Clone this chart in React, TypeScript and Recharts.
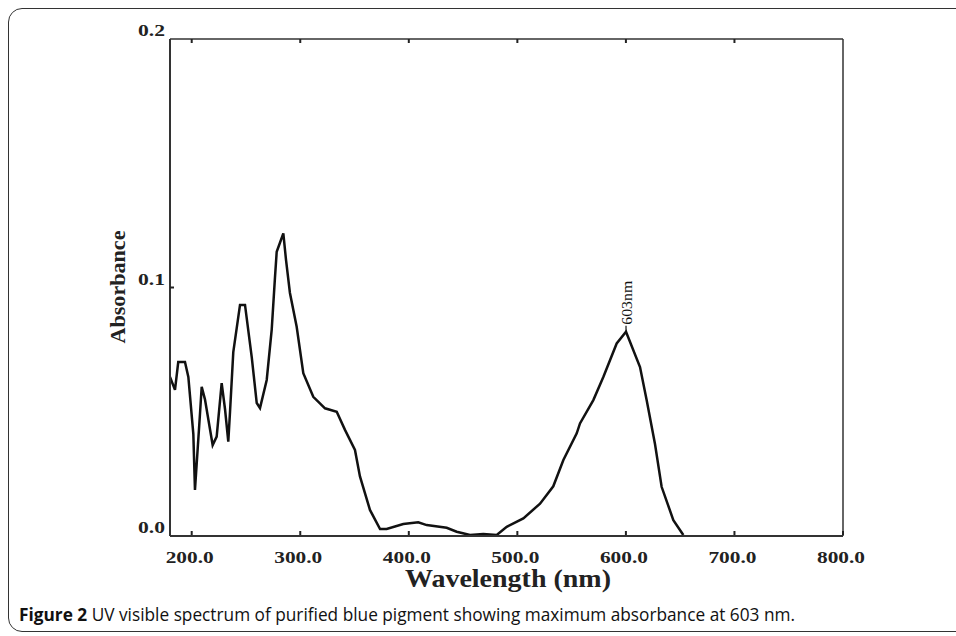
import { LineChart, Line, XAxis, YAxis, ReferenceDot } from "recharts";

// Wavelength (nm) and absorbance
const wavelength = [
  180, 184.6, 187.6, 193.8, 196.9, 201.5, 203.0, 207.6, 209.2, 212.2, 219.3,
  223.0, 227.6, 230.7, 233.7, 235.3, 238.3, 244.5, 249.1, 255.3, 259.9, 262.9,
  269.1, 273.7, 276.7, 278.3, 281.3, 284.4, 286.9, 290.5, 296.7, 302.8, 312.0,
  322.8, 333.6, 341.2, 350.4, 355.0, 364.2, 373.5, 379.6, 394.9, 408.7, 416.5,
  434.9, 444.1, 456.4, 468.6, 481.0, 490.2, 505.5, 520.9, 533.1, 542.4, 554.7,
  557.7, 570.0, 579.2, 591.5, 600.1, 613.0, 619.1, 626.8, 632.9, 643.7, 652.9,
];
const absorbance = [
  0.064, 0.0588, 0.07, 0.07, 0.064, 0.041, 0.0185, 0.049, 0.06, 0.055, 0.0366,
  0.04, 0.0615, 0.051, 0.038, 0.05, 0.074, 0.093, 0.093, 0.072, 0.0535, 0.0515,
  0.0628, 0.083, 0.104, 0.1144, 0.118, 0.1218, 0.111, 0.0978, 0.0842, 0.0655, 0.056,
  0.0514, 0.05, 0.0427, 0.0346, 0.024, 0.0105, 0.0028, 0.0028, 0.0048, 0.0055, 0.0044,
  0.0033, 0.0017, 0.0004, 0.0008, 0.0004, 0.0037, 0.0071, 0.013, 0.02, 0.0306, 0.0413,
  0.0453, 0.0547, 0.064, 0.0775, 0.0822, 0.068, 0.0547, 0.037, 0.0198, 0.0064, 0.0004,
];
const xTicks = [200, 300, 400, 500, 600, 700, 800];
const yTicks = [0, 0.1, 0.2];
const peakLabel = "603nm";

const data = wavelength.map((nm, i) => ({ nm, abs: absorbance[i] }));

// visible-band maximum (the labelled peak)
let peakIdx = 0;
wavelength.forEach((nm, i) => {
  if (nm > 500 && (wavelength[peakIdx] <= 500 || absorbance[i] > absorbance[peakIdx])) peakIdx = i;
});

const serif = "'Liberation Serif', 'Times New Roman', serif";
const TICK = 4; // inward tick length
const X_GAP = 16;
const Y_GAP = 5;

// bottom tick: label + small inward mark (axis sits X_GAP above the label anchor)
const XTick = (props: any) => {
  const { x, y, payload } = props;
  const axisY = y - X_GAP;
  return (
    <g>
      <line x1={x} x2={x} y1={axisY - 1} y2={axisY - 1 - TICK} stroke="#222" strokeWidth={2} />
      <text x={x - 2} y={y} dy={11} textAnchor="middle" fontFamily={serif} fontWeight="bold"
        fontSize={16} fill="#222" textLength={48} lengthAdjust="spacingAndGlyphs">
        {Number(payload.value).toFixed(1)}
      </text>
    </g>
  );
};

const YTick = (props: any) => {
  const { x, y, payload } = props;
  const axisX = x + Y_GAP;
  return (
    <g>
      {payload.value > 0 && payload.value < 0.2 && (
        <line x1={axisX} x2={axisX + TICK} y1={y} y2={y} stroke="#222" strokeWidth={2} />
      )}
      <text x={x} y={y} dy={-3} textAnchor="end" fontFamily={serif} fontWeight="bold"
        fontSize={16} fill="#222" textLength={27} lengthAdjust="spacingAndGlyphs">
        {Number(payload.value).toFixed(1)}
      </text>
    </g>
  );
};

const TopTick = (props: any) => {
  const { x, y, payload } = props;
  if (payload.value >= 800) return <g />;
  return <line x1={x} x2={x} y1={y} y2={y + TICK} stroke="#222" strokeWidth={2} />;
};

const PeakMark = (props: any) => {
  const { cx, cy } = props;
  return (
    <g>
      <line x1={cx} y1={cy} x2={cx} y2={cy - 6} stroke="#111" strokeWidth={1.2} />
      <text transform={`translate(${cx + 6},${cy - 7}) rotate(-90)`} fontFamily={serif}
        fontSize={15} fill="#111" textLength={44} lengthAdjust="spacingAndGlyphs">
        {peakLabel}
      </text>
    </g>
  );
};

export default function App() {
  return (
    <div style={{ position: "absolute", left: 0, top: 0, width: 956, height: 636, overflow: "hidden", background: "#fff" }}>
      <div style={{ position: "absolute", left: 8, top: 8, width: 980, height: 622, border: "1.5px solid #333", borderRadius: 14 }} />
      <LineChart width={956} height={636} data={data} margin={{ top: 19, right: 103, left: 110, bottom: 70 }}>
        <XAxis xAxisId="top" orientation="top" type="number" dataKey="nm" domain={[180, 800]}
          ticks={xTicks} height={20} tickSize={0} tickMargin={0} tick={<TopTick />} tickLine={false}
          allowDataOverflow axisLine={{ stroke: "#333", strokeWidth: 1.5 }} />
        <XAxis type="number" dataKey="nm" domain={[180, 800]} ticks={xTicks} height={30}
          tickSize={0} tickMargin={X_GAP} tick={<XTick />} tickLine={false} allowDataOverflow
          axisLine={{ stroke: "#333", strokeWidth: 2 }} />
        <YAxis type="number" domain={[0, 0.2]} ticks={yTicks} width={60} tickSize={0}
          tickMargin={Y_GAP} tick={<YTick />} tickLine={false} allowDataOverflow
          axisLine={{ stroke: "#333", strokeWidth: 2 }} />
        <YAxis yAxisId="right" orientation="right" type="number" domain={[0, 0.2]} ticks={yTicks}
          width={10} tick={false} tickLine={false} axisLine={{ stroke: "#333", strokeWidth: 1.5 }} />
        <Line type="linear" dataKey="abs" stroke="#111" strokeWidth={2.5} dot={false}
          isAnimationActive={false} />
        <ReferenceDot x={wavelength[peakIdx]} y={absorbance[peakIdx]} r={0} shape={<PeakMark />} />
      </LineChart>
      <svg width={956} height={636} style={{ position: "absolute", left: 0, top: 0, pointerEvents: "none" }}>
        <text transform="translate(125,287) rotate(-90)" textAnchor="middle" fontFamily={serif}
          fontWeight="bold" fontSize={20} fill="#222" textLength={113} lengthAdjust="spacingAndGlyphs">
          Absorbance
        </text>
        <text x={508} y={587} textAnchor="middle" fontFamily={serif} fontWeight="bold" fontSize={25}
          fill="#222" textLength={206} lengthAdjust="spacingAndGlyphs">
          Wavelength (nm)
        </text>
        <text x={19} y={621} fontFamily="'Open Sans', 'Noto Sans', sans-serif" fontSize={18} fill="#111"
          textLength={776} lengthAdjust="spacingAndGlyphs">
          <tspan fontWeight="bold">Figure 2</tspan> UV visible spectrum of purified blue pigment showing maximum absorbance at 603 nm.
        </text>
      </svg>
    </div>
  );
}
